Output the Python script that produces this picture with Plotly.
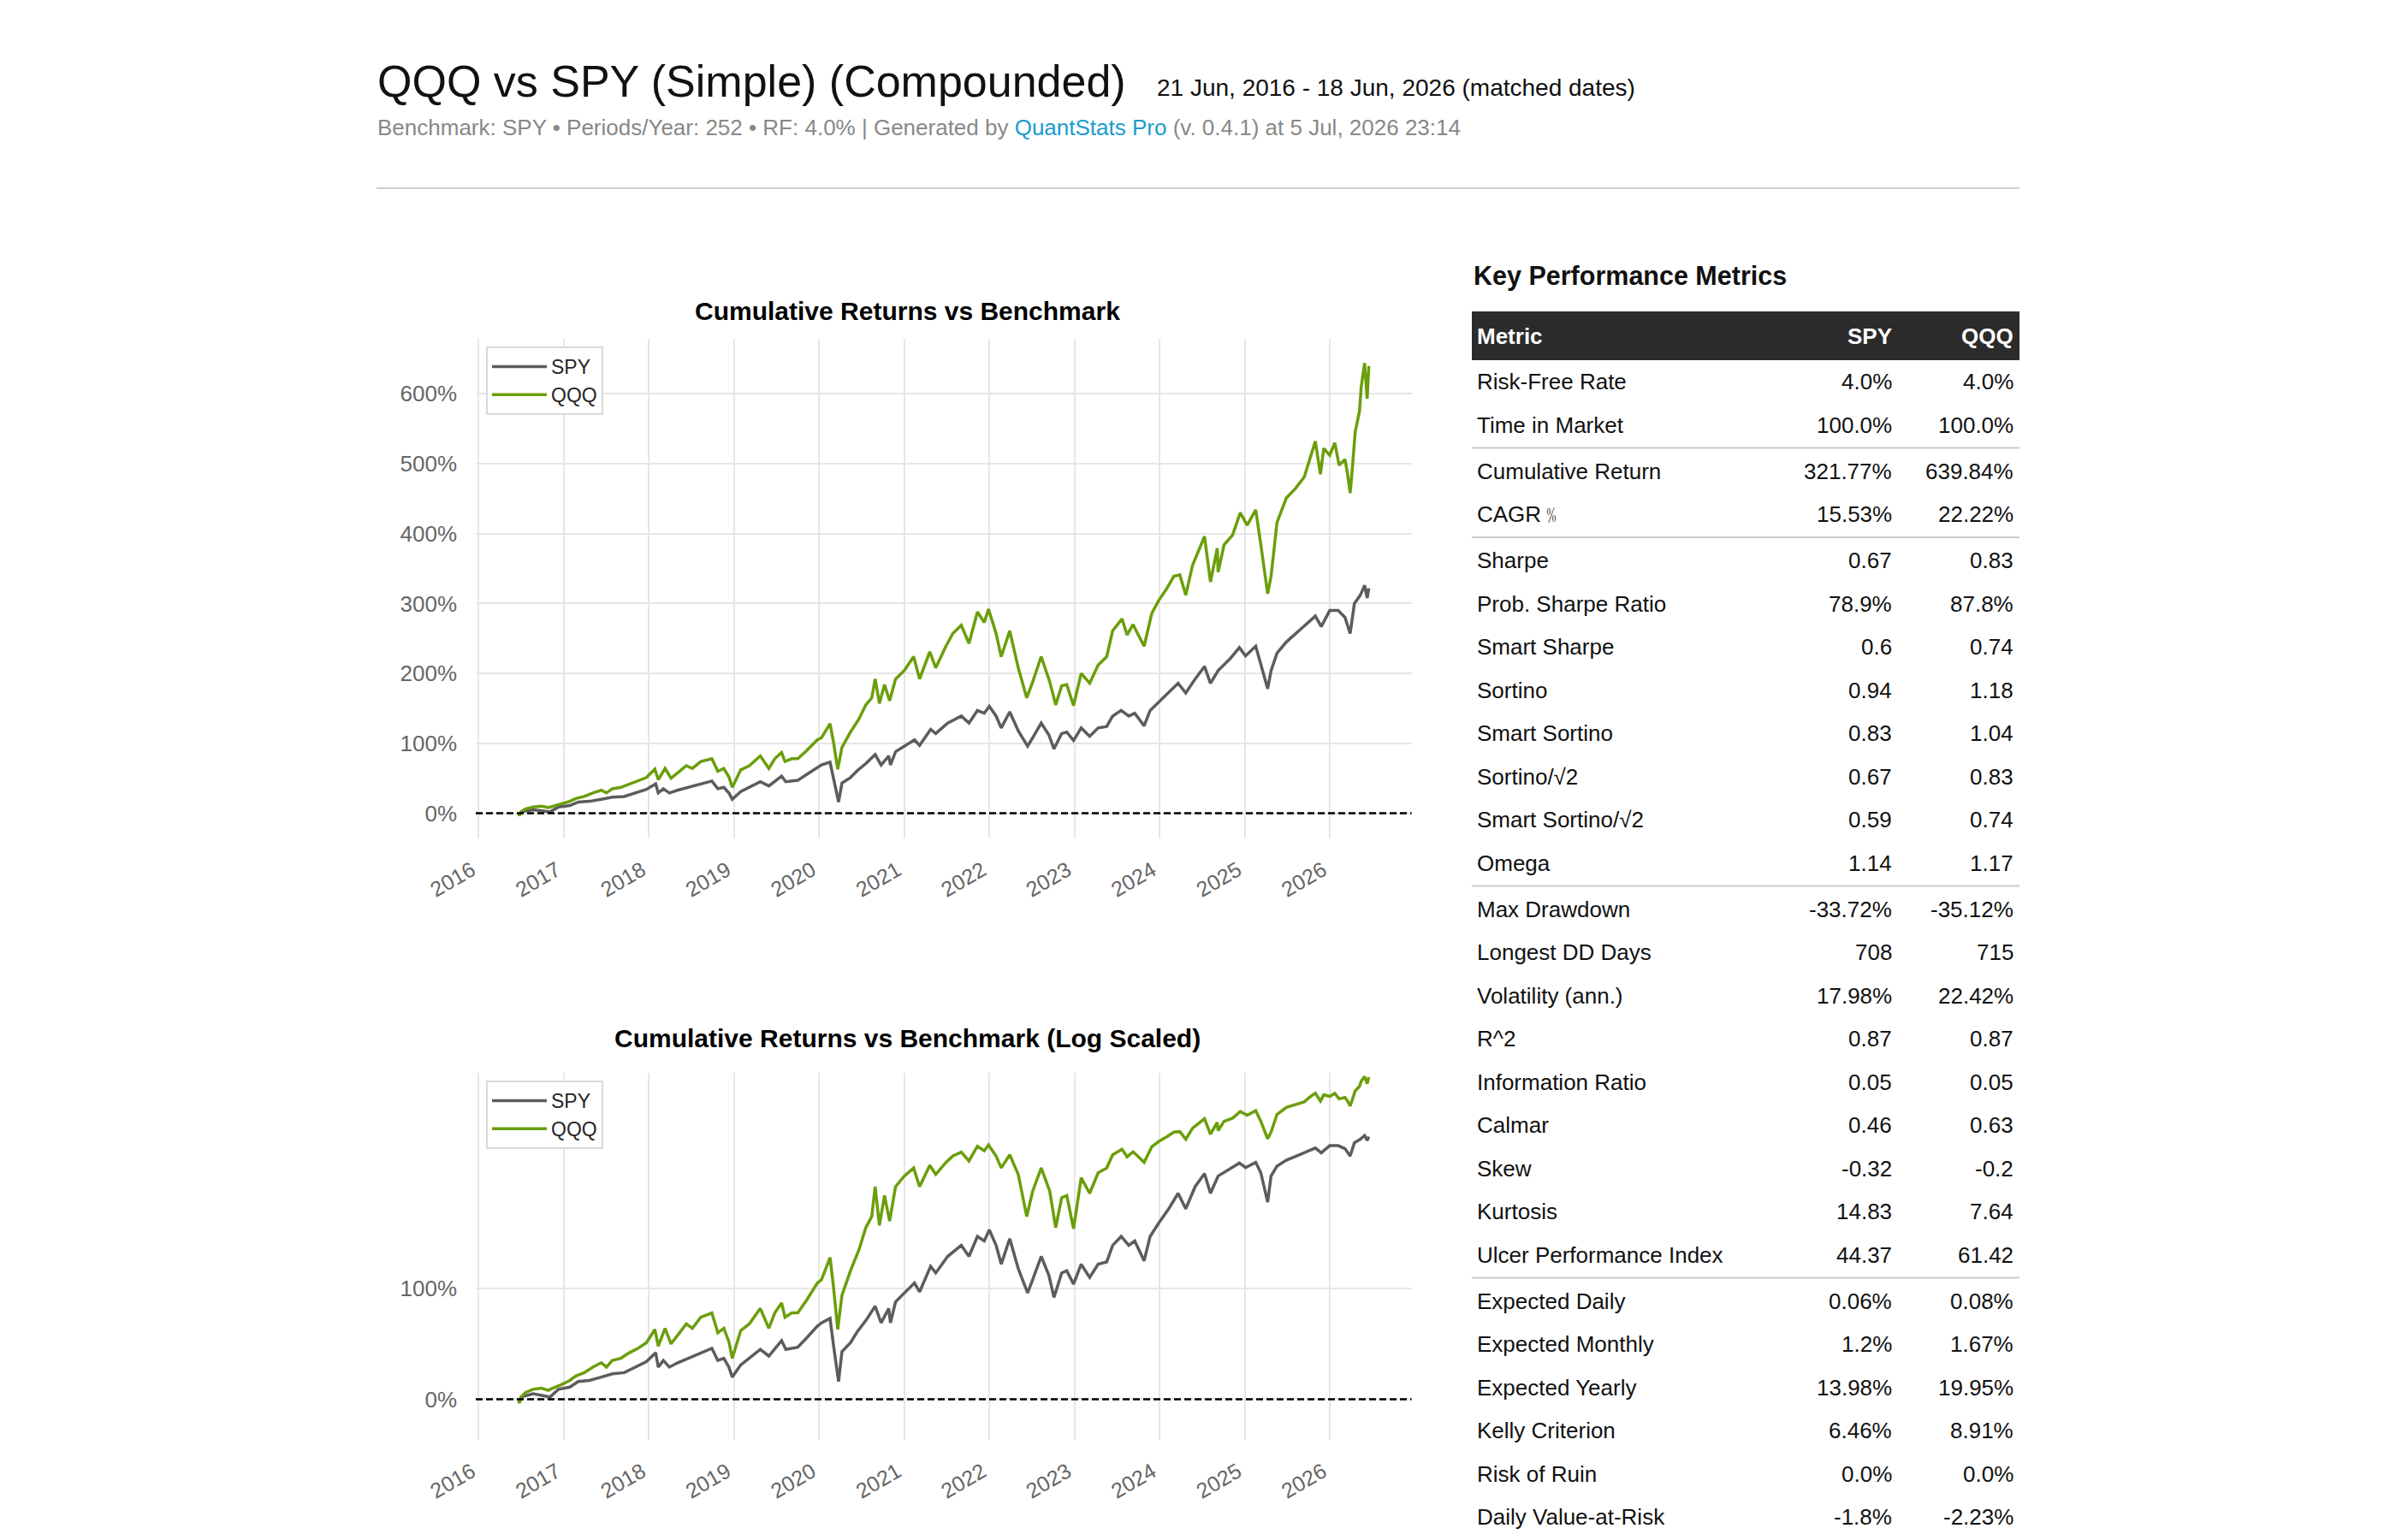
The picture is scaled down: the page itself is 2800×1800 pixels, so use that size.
import numpy as np
import pandas as pd
import plotly.graph_objects as go

W, H = 2800, 1800
FONT = "Liberation Sans, Arial, Helvetica, sans-serif"

# ---------------- data ----------------
spy_t = [2016.47, 2016.48, 2016.50, 2016.64, 2016.77, 2016.84, 2016.94, 2017.07, 2017.17, 2017.30,
         2017.44, 2017.57, 2017.71, 2017.84, 2017.97, 2018.08, 2018.11, 2018.17, 2018.24, 2018.34,
         2018.47, 2018.61, 2018.74, 2018.81, 2018.88, 2018.94, 2018.98, 2019.08, 2019.21, 2019.31,
         2019.41, 2019.56, 2019.61, 2019.75, 2019.85, 2019.98, 2020.03, 2020.13, 2020.17, 2020.23,
         2020.27, 2020.37, 2020.45, 2020.55, 2020.66, 2020.73, 2020.82, 2020.84, 2020.90, 2021.00,
         2021.12, 2021.18, 2021.31, 2021.37, 2021.51, 2021.67, 2021.76, 2021.86, 2021.94, 2022.00,
         2022.08, 2022.14, 2022.24, 2022.34, 2022.45, 2022.51, 2022.61, 2022.70, 2022.76, 2022.85,
         2022.91, 2022.99, 2023.08, 2023.18, 2023.28, 2023.38, 2023.45, 2023.55, 2023.64, 2023.71,
         2023.82, 2023.89, 2023.99, 2024.11, 2024.22, 2024.31, 2024.42, 2024.53, 2024.60, 2024.69,
         2024.83, 2024.94, 2025.01, 2025.13, 2025.19, 2025.27, 2025.31, 2025.38, 2025.49, 2025.60,
         2025.70, 2025.83, 2025.90, 2026.00, 2026.10, 2026.18, 2026.24, 2026.29, 2026.36, 2026.41,
         2026.44, 2026.46]
spy_v = [0, -2.5, 2, 5, 3, 2, 9, 11, 16, 17,
         20, 23, 24, 29, 34, 42, 29, 35, 29, 33,
         37, 42, 46, 35, 37, 29, 20, 31, 39, 45,
         39, 53, 45, 47, 55, 66, 69, 73, 49, 16,
         43, 51, 61, 71, 84, 69, 82, 69, 88, 96,
         105, 97, 120, 114, 129, 139, 129, 147, 143, 153,
         139, 122, 145, 118, 96, 108, 129, 112, 92, 114,
         116, 104, 122, 110, 122, 124, 139, 147, 139, 143,
         125, 147, 159, 172, 186, 172, 192, 210, 186, 204,
         221, 237, 225, 239, 212, 178, 204, 229, 245, 257,
         269, 282, 267, 290, 290, 280, 257, 300, 312, 326,
         308, 321.77]

qqq_t = [2016.47, 2016.48, 2016.50, 2016.55, 2016.64, 2016.74, 2016.82, 2016.87, 2016.97, 2017.07,
         2017.14, 2017.24, 2017.34, 2017.44, 2017.50, 2017.57, 2017.67, 2017.77, 2017.87, 2017.97,
         2018.07, 2018.11, 2018.19, 2018.26, 2018.34, 2018.44, 2018.51, 2018.61, 2018.74, 2018.81,
         2018.88, 2018.94, 2018.98, 2019.08, 2019.18, 2019.31, 2019.41, 2019.48, 2019.56, 2019.60,
         2019.68, 2019.75, 2019.85, 2019.98, 2020.03, 2020.13, 2020.17, 2020.22, 2020.27, 2020.37,
         2020.47, 2020.55, 2020.62, 2020.66, 2020.71, 2020.77, 2020.83, 2020.90, 2021.00, 2021.11,
         2021.18, 2021.30, 2021.37, 2021.49, 2021.57, 2021.67, 2021.76, 2021.86, 2021.94, 2021.99,
         2022.08, 2022.14, 2022.24, 2022.34, 2022.44, 2022.51, 2022.61, 2022.71, 2022.78, 2022.85,
         2022.91, 2022.99, 2023.08, 2023.18, 2023.28, 2023.38, 2023.45, 2023.56, 2023.62, 2023.69,
         2023.76, 2023.82, 2023.91, 2023.99, 2024.09, 2024.17, 2024.24, 2024.31, 2024.39, 2024.53,
         2024.60, 2024.68, 2024.69, 2024.76, 2024.86, 2024.95, 2025.03, 2025.13, 2025.19, 2025.27,
         2025.31, 2025.38, 2025.49, 2025.60, 2025.70, 2025.76, 2025.83, 2025.89, 2025.93, 2026.00,
         2026.06, 2026.11, 2026.18, 2026.21, 2026.24, 2026.26, 2026.30, 2026.35, 2026.37, 2026.41,
         2026.44, 2026.46]
qqq_v = [0, -3.5, 2, 6, 9, 10, 8, 10, 13, 17,
         21, 24, 29, 33, 29, 35, 37, 42, 46, 51,
         63, 48, 64, 50, 58, 68, 64, 74, 78, 60,
         64, 52, 37, 62, 68, 82, 64, 78, 87, 74,
         78, 78, 89, 105, 108, 128, 102, 63, 94, 116,
         135, 155, 165, 192, 157, 184, 161, 192, 204, 224,
         192, 231, 208, 239, 257, 269, 243, 288, 273, 292,
         257, 224, 261, 208, 165, 188, 224, 188, 155, 182,
         184, 154, 200, 186, 212, 224, 261, 278, 255, 270,
         253, 239, 286, 304, 322, 339, 341, 312, 355, 396,
         331, 379, 345, 384, 398, 430, 412, 434, 384, 314,
         339, 416, 451, 465, 481, 506, 532, 485, 522, 512,
         530, 498, 506, 485, 458, 485, 546, 575, 610, 644,
         593, 639.84]

year_ticks = list(range(2016, 2027))
lin_ticks = [0, 100, 200, 300, 400, 500, 600]
log_ticks = [0, 100]

metric_names = ["Risk-Free Rate", "Time in Market", "Cumulative Return", "CAGR\uFE6A",
                "Sharpe", "Prob. Sharpe Ratio", "Smart Sharpe", "Sortino", "Smart Sortino",
                "Sortino/\u221A2", "Smart Sortino/\u221A2", "Omega",
                "Max Drawdown", "Longest DD Days", "Volatility (ann.)", "R^2", "Information Ratio",
                "Calmar", "Skew", "Kurtosis", "Ulcer Performance Index",
                "Expected Daily", "Expected Monthly", "Expected Yearly", "Kelly Criterion",
                "Risk of Ruin", "Daily Value-at-Risk"]
spy_metrics = ["4.0%", "100.0%", "321.77%", "15.53%",
               "0.67", "78.9%", "0.6", "0.94", "0.83", "0.67", "0.59", "1.14",
               "-33.72%", "708", "17.98%", "0.87", "0.05", "0.46", "-0.32", "14.83", "44.37",
               "0.06%", "1.2%", "13.98%", "6.46%", "0.0%", "-1.8%"]
qqq_metrics = ["4.0%", "100.0%", "639.84%", "22.22%",
               "0.83", "87.8%", "0.74", "1.18", "1.04", "0.83", "0.74", "1.17",
               "-35.12%", "715", "22.42%", "0.87", "0.05", "0.63", "-0.2", "7.64", "61.42",
               "0.08%", "1.67%", "19.95%", "8.91%", "0.0%", "-2.23%"]
group_ends = [1, 3, 11, 20]  # separator after these rows

SPY_COLOR = "#5c5c5c"
QQQ_COLOR = "#6b9e0b"


def to_dates(ts):
    out = []
    for y in ts:
        yr = int(np.floor(y))
        out.append(pd.Timestamp(yr, 1, 1) + pd.Timedelta(days=(y - yr) * 365.25))
    return out


def symlog(vals_pct, linthresh=2.0, base=10.0):
    x = np.asarray(vals_pct, dtype=float) / 100.0
    lin = 1.0 / (1.0 - 1.0 / base)
    ax = np.abs(x)
    out = np.sign(x) * linthresh * (lin + np.log10(np.maximum(ax, 1e-12) / linthresh) / np.log10(base))
    inside = ax <= linthresh
    out[inside] = x[inside] * lin
    return out


def px(x):
    return x / W


def py(y):
    return 1 - y / H


spy_d = to_dates(spy_t)
qqq_d = to_dates(qqq_t)

LW = 3.5
fig = go.Figure()
fig.add_trace(go.Scatter(x=spy_d, y=spy_v, mode="lines", name="SPY",
                         line=dict(color=SPY_COLOR, width=LW), xaxis="x", yaxis="y", legend="legend"))
fig.add_trace(go.Scatter(x=qqq_d, y=qqq_v, mode="lines", name="QQQ",
                         line=dict(color=QQQ_COLOR, width=LW), xaxis="x", yaxis="y", legend="legend"))
fig.add_trace(go.Scatter(x=spy_d, y=symlog(spy_v), mode="lines", name="SPY",
                         line=dict(color=SPY_COLOR, width=LW), xaxis="x2", yaxis="y2", legend="legend2"))
fig.add_trace(go.Scatter(x=qqq_d, y=symlog(qqq_v), mode="lines", name="QQQ",
                         line=dict(color=QQQ_COLOR, width=LW), xaxis="x2", yaxis="y2", legend="legend2"))

xdom = [px(556), px(1649.5)]
xrange_ = ["2015-12-20", "2026-12-18"]
tickvals_x = [f"{y}-01-01" for y in year_ticks]
ticktext_x = [str(y) for y in year_ticks]
grid = "#e6e6e6"
tickfont = dict(family=FONT, size=25, color="#666666")

common_x = dict(type="date", range=xrange_, tickmode="array", tickvals=tickvals_x, ticktext=ticktext_x,
                tickangle=-30, showgrid=True, gridcolor=grid, gridwidth=2, zeroline=False,
                showline=False, ticks="", tickfont=tickfont, fixedrange=True, automargin=False,
                ticklabelstandoff=17, ticklabelshift=-8)
common_y = dict(showgrid=True, gridcolor=grid, gridwidth=2, zeroline=False, showline=False,
                ticks="", tickfont=dict(family=FONT, size=26, color="#666666"), ticklabelstandoff=21,
                automargin=False, fixedrange=True, tickmode="array")
legend_style = dict(xanchor="left", yanchor="top", bgcolor="white",
                    bordercolor="#d9d9d9", borderwidth=2, font=dict(family=FONT, size=23, color="#262626"),
                    itemwidth=64, tracegroupgap=0)

fig.update_layout(
    width=W, height=H,
    margin=dict(l=0, r=0, t=0, b=0, pad=0, autoexpand=False),
    paper_bgcolor="white", plot_bgcolor="white",
    font=dict(family=FONT, color="#111111"),
    xaxis=dict(domain=xdom, anchor="y", **common_x),
    yaxis=dict(domain=[py(980), py(395.6)], anchor="x", range=[-36.1, 679.2],
               tickvals=lin_ticks, ticktext=[f"{v}%" for v in lin_ticks], **common_y),
    xaxis2=dict(domain=xdom, anchor="y2", **common_x),
    yaxis2=dict(domain=[py(1683), py(1254)], anchor="x2", range=[-0.408, 3.275],
                tickvals=list(symlog(log_ticks)), ticktext=[f"{v}%" for v in log_ticks], **common_y),
    legend=dict(x=px(568), y=py(405), **legend_style),
    legend2=dict(x=px(568), y=py(1263), **legend_style),
    showlegend=True,
)

shapes = []
for yref, xr in [("y", "x domain"), ("y2", "x2 domain")]:
    shapes.append(dict(type="line", xref=xr, x0=0, x1=1, yref=yref, y0=0, y1=0, layer="above",
                       line=dict(color="black", width=2.5, dash="8px,4px")))
# header rule
shapes.append(dict(type="line", xref="paper", yref="paper", x0=px(440), x1=px(2360), y0=py(220), y1=py(220),
                   line=dict(color="#d0d0d0", width=2)))

annotations = []
# Page header
annotations.append(dict(xref="paper", yref="paper", x=px(439), y=py(95), xanchor="left", yanchor="middle",
                        text="QQQ vs SPY (Simple) (Compounded)", showarrow=False,
                        font=dict(family=FONT, size=52, color="#111111")))
annotations.append(dict(xref="paper", yref="paper", x=px(1350), y=py(103), xanchor="left", yanchor="middle",
                        text="21 Jun, 2016 - 18 Jun, 2026 (matched dates)", showarrow=False,
                        font=dict(family=FONT, size=28, color="#111111")))
annotations.append(dict(xref="paper", yref="paper", x=px(439), y=py(149), xanchor="left", yanchor="middle",
                        text=("Benchmark: SPY \u2022 Periods/Year: 252 \u2022 RF: 4.0% | Generated by "
                              "<span style='color:#1a9bce'>QuantStats Pro</span> (v. 0.4.1) at 5 Jul, 2026 23:14"),
                        showarrow=False, font=dict(family=FONT, size=26, color="#888888")))
# chart titles
annotations.append(dict(xref="paper", yref="paper", x=px(1060), y=py(364), xanchor="center", yanchor="middle",
                        text="<b>Cumulative Returns vs Benchmark</b>", showarrow=False,
                        font=dict(family=FONT, size=30, color="#000000")))
annotations.append(dict(xref="paper", yref="paper", x=px(1060), y=py(1213), xanchor="center", yanchor="middle",
                        text="<b>Cumulative Returns vs Benchmark (Log Scaled)</b>", showarrow=False,
                        font=dict(family=FONT, size=30, color="#000000")))

# ---------------- metrics table ----------------
TX0, TX1 = 1720, 2360
LBL_X, SPY_X, QQQ_X = 1724, 2213, 2355
annotations.append(dict(xref="paper", yref="paper", x=px(1720), y=py(323), xanchor="left", yanchor="middle",
                        text="<b>Key Performance Metrics</b>", showarrow=False,
                        font=dict(family=FONT, size=30.5, color="#111111")))
shapes.append(dict(type="rect", xref="paper", yref="paper", x0=px(TX0), x1=px(TX1), y0=py(421), y1=py(364),
                   fillcolor="#2b2b2b", line=dict(width=0), layer="above"))
for txt, xx, anc in [("Metric", LBL_X, "left"), ("SPY", SPY_X, "right"), ("QQQ", QQQ_X, "right")]:
    annotations.append(dict(xref="paper", yref="paper", x=px(xx), y=py(393), xanchor=anc, yanchor="middle",
                            text=f"<b>{txt}</b>", showarrow=False,
                            font=dict(family=FONT, size=26, color="white")))

ROW0, PITCH, GAP = 446, 50.5, 3.5
row_y = []
nsep = 0
for i in range(len(metric_names)):
    row_y.append(ROW0 + i * PITCH + GAP * nsep)
    if i in group_ends:
        nsep += 1
for i, (name, a, b) in enumerate(zip(metric_names, spy_metrics, qqq_metrics)):
    y = row_y[i]
    for txt, xx, anc in [(name, LBL_X, "left"), (a, SPY_X, "right"), (b, QQQ_X, "right")]:
        annotations.append(dict(xref="paper", yref="paper", x=px(xx), y=py(y), xanchor=anc, yanchor="middle",
                                text=txt, showarrow=False, font=dict(family=FONT, size=26, color="#111111")))
for g in group_ends:
    ys = (row_y[g] + row_y[g + 1]) / 2
    shapes.append(dict(type="line", xref="paper", yref="paper", x0=px(TX0), x1=px(TX1), y0=py(ys), y1=py(ys),
                       line=dict(color="#cccccc", width=2)))

fig.update_layout(shapes=shapes, annotations=annotations)
fig.write_html("out.html")
